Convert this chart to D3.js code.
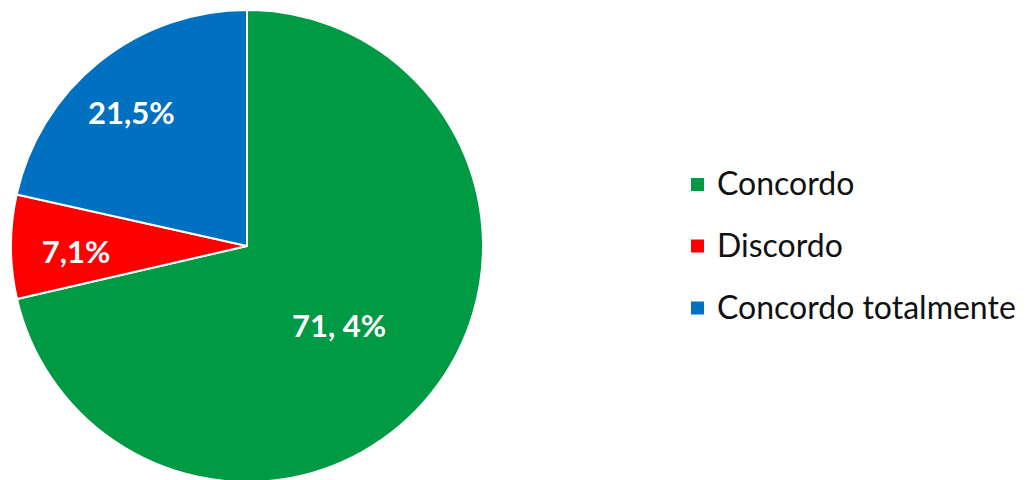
<!DOCTYPE html>
<html>
<head>
<meta charset="utf-8">
<script src="https://cdn.jsdelivr.net/npm/d3@7"></script>
<style>
  html, body { margin: 0; padding: 0; background: #ffffff; }
  svg { display: block; }
</style>
</head>
<body>
<svg id="chart" width="1029" height="480"></svg>
<script>
// Survey answers, drawn clockwise from 12 o'clock
const categories = ["Concordo", "Discordo", "Concordo totalmente"];
const values = [71.4, 7.1, 21.5];
const valueLabels = ["71, 4%", "7,1%", "21,5%"];
const colors = ["#009944", "#ff0000", "#0070c0"];

const width = 1029, height = 480;
const cx = 247, cy = 246, radius = 236;
// label placement: fraction of radius along the slice bisector, plus a small nudge
const labelRadius = [0.51, 0.72, 0.75];
const labelNudge = [[-2, 5], [-1, 5], [-5, 5]];

const svg = d3.select("#chart");

const pie = d3.pie().sort(null).value(d => d.value);
const data = categories.map((c, i) => ({
  name: c, value: values[i], label: valueLabels[i], color: colors[i],
  lr: labelRadius[i], nudge: labelNudge[i]
}));
const arcs = pie(data);

const arc = d3.arc().innerRadius(0).outerRadius(radius);

const g = svg.append("g").attr("transform", `translate(${cx},${cy})`);

g.selectAll("path.slice")
  .data(arcs)
  .join("path")
  .attr("class", "slice")
  .attr("d", arc)
  .attr("fill", d => d.data.color)
  .attr("stroke", "#ffffff")
  .attr("stroke-width", 2)
  .attr("stroke-linejoin", "round");

g.selectAll("text.value")
  .data(arcs)
  .join("text")
  .attr("class", "value")
  .attr("transform", d => {
    const a = (d.startAngle + d.endAngle) / 2;
    const r = radius * d.data.lr;
    return `translate(${Math.sin(a) * r + d.data.nudge[0]},${-Math.cos(a) * r + d.data.nudge[1]})`;
  })
  .attr("text-anchor", "middle")
  .attr("dy", "0.36em")
  .attr("fill", "#ffffff")
  .attr("font-family", "Lato, 'Open Sans', sans-serif")
  .attr("font-weight", "bold")
  .attr("font-size", 31)
  .text(d => d.data.label);

// Legend
const legend = svg.append("g").attr("transform", "translate(691,0)");
const legendY = [184.5, 246, 308];
const items = legend.selectAll("g.item")
  .data(data)
  .join("g")
  .attr("class", "item")
  .attr("transform", (d, i) => `translate(0,${legendY[i]})`);

items.append("rect")
  .attr("x", 0).attr("y", -6.5)
  .attr("width", 13).attr("height", 13)
  .attr("fill", d => d.color);

items.append("text")
  .attr("x", 26)
  .attr("dy", "0.34em")
  .attr("fill", "#111111")
  .attr("font-family", "Lato, 'Open Sans', sans-serif")
  .attr("font-size", 32)
  .text(d => d.name);
</script>
</body>
</html>
